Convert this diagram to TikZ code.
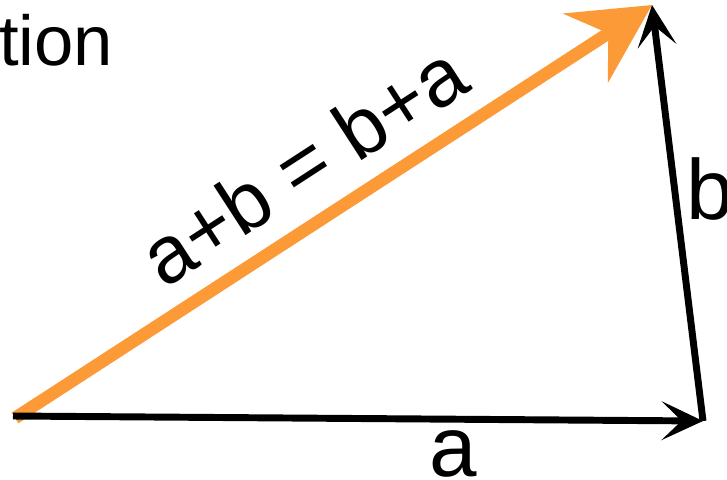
\documentclass[tikz,border=0pt]{standalone}
\usepackage{fontspec}
\setmainfont{Liberation Sans}
\usetikzlibrary{arrows.meta}
\definecolor{sumorange}{RGB}{253,154,56}
\tikzset{
vec/.style={draw=black,line width=5.2pt,-{Stealth[length=31pt,width=29pt,inset=15pt]}},
sum/.style={draw=sumorange,line width=9.4pt,-{Stealth[length=59pt,width=61pt,inset=20pt]}},
lbl/.style={inner sep=0pt,font=\fontsize{64}{70}\selectfont}
}
\begin{document}
\begin{tikzpicture}[x=0.75pt,y=-0.75pt]
\useasboundingbox (0,0) rectangle (727,479);
\coordinate (O) at (15,418);
\coordinate (A) at (703,421);
\coordinate (B) at (652,5);
\node[lbl,anchor=base west,font=\fontsize{53}{60}\selectfont] (title) at (-1,65) {tion};
\draw[sum] (O) -- node[lbl,sloped,pos=0.5,anchor=south,yshift=15pt,font=\fontsize{61}{66}\selectfont] (sumlbl) {a+b = b+a} (B);
\draw[vec] (13,416) -- (A);
\draw[vec] (A) -- (B);
\node[lbl,anchor=base] (alabel) at (453,476) {a};
\node[lbl,anchor=base west] (blabel) at (686,219) {b};
\end{tikzpicture}
\end{document}
